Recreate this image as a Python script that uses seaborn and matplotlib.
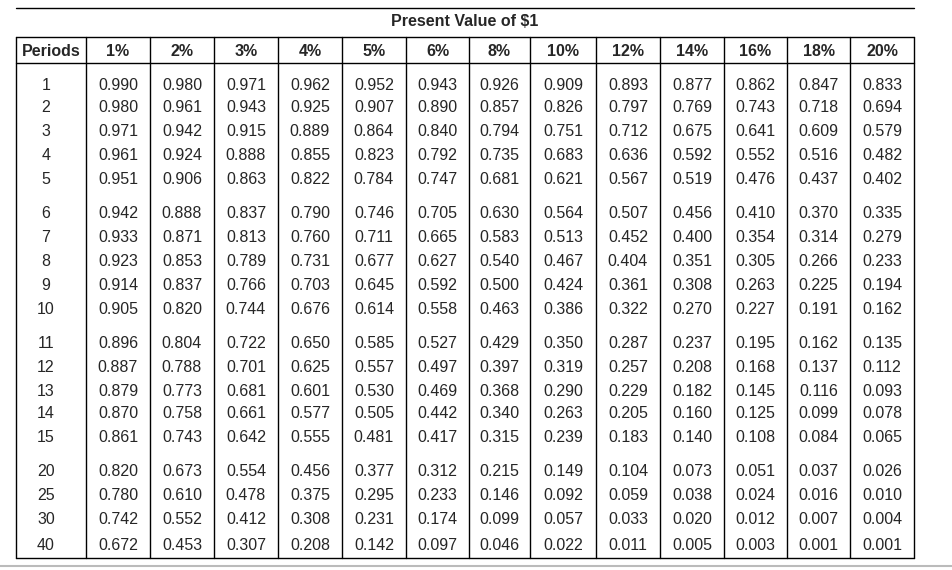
import matplotlib
matplotlib.use("Agg")
import matplotlib.pyplot as plt
import seaborn as sns
from matplotlib import font_manager

sns.set_theme(style="white")

title = "Present Value of $1"
periods = [1, 2, 3, 4, 5, 6, 7, 8, 9, 10, 11, 12, 13, 14, 15, 20, 25, 30, 40]
rates = ["1%", "2%", "3%", "4%", "5%", "6%", "8%", "10%", "12%", "14%", "16%", "18%", "20%"]
r1 = [0.990,0.980,0.971,0.961,0.951,0.942,0.933,0.923,0.914,0.905,0.896,0.887,0.879,0.870,0.861,0.820,0.780,0.742,0.672]
r2 = [0.980,0.961,0.942,0.924,0.906,0.888,0.871,0.853,0.837,0.820,0.804,0.788,0.773,0.758,0.743,0.673,0.610,0.552,0.453]
r3 = [0.971,0.943,0.915,0.888,0.863,0.837,0.813,0.789,0.766,0.744,0.722,0.701,0.681,0.661,0.642,0.554,0.478,0.412,0.307]
r4 = [0.962,0.925,0.889,0.855,0.822,0.790,0.760,0.731,0.703,0.676,0.650,0.625,0.601,0.577,0.555,0.456,0.375,0.308,0.208]
r5 = [0.952,0.907,0.864,0.823,0.784,0.746,0.711,0.677,0.645,0.614,0.585,0.557,0.530,0.505,0.481,0.377,0.295,0.231,0.142]
r6 = [0.943,0.890,0.840,0.792,0.747,0.705,0.665,0.627,0.592,0.558,0.527,0.497,0.469,0.442,0.417,0.312,0.233,0.174,0.097]
r8 = [0.926,0.857,0.794,0.735,0.681,0.630,0.583,0.540,0.500,0.463,0.429,0.397,0.368,0.340,0.315,0.215,0.146,0.099,0.046]
r10 = [0.909,0.826,0.751,0.683,0.621,0.564,0.513,0.467,0.424,0.386,0.350,0.319,0.290,0.263,0.239,0.149,0.092,0.057,0.022]
r12 = [0.893,0.797,0.712,0.636,0.567,0.507,0.452,0.404,0.361,0.322,0.287,0.257,0.229,0.205,0.183,0.104,0.059,0.033,0.011]
r14 = [0.877,0.769,0.675,0.592,0.519,0.456,0.400,0.351,0.308,0.270,0.237,0.208,0.182,0.160,0.140,0.073,0.038,0.020,0.005]
r16 = [0.862,0.743,0.641,0.552,0.476,0.410,0.354,0.305,0.263,0.227,0.195,0.168,0.145,0.125,0.108,0.051,0.024,0.012,0.003]
r18 = [0.847,0.718,0.609,0.516,0.437,0.370,0.314,0.266,0.225,0.191,0.162,0.137,0.116,0.099,0.084,0.037,0.016,0.007,0.001]
r20 = [0.833,0.694,0.579,0.482,0.402,0.335,0.279,0.233,0.194,0.162,0.135,0.112,0.093,0.078,0.065,0.026,0.010,0.004,0.001]
series = [r1, r2, r3, r4, r5, r6, r8, r10, r12, r14, r16, r18, r20]

names = {f.name for f in font_manager.fontManager.ttflist}
fam = "Liberation Sans Narrow" if "Liberation Sans Narrow" in names else "Liberation Sans"

fig = plt.figure(figsize=(9.52, 5.70), dpi=100)
ax = fig.add_axes([0, 0, 1, 1])
ax.set_xlim(0, 952); ax.set_ylim(570, 0); ax.axis("off")

edges = [16, 86, 150, 214, 278, 342, 406, 469, 530, 596, 660, 724, 787, 850, 914]
top, hbot, bot = 37, 63, 558
lw = 1.0
ax.plot([16, 914], [8, 8], color="black", lw=lw)
ax.plot([16, 914], [top, top], color="black", lw=lw)
ax.plot([16, 914], [hbot, hbot], color="black", lw=lw)
ax.plot([16, 914], [bot, bot], color="black", lw=lw)
ax.plot([0, 952], [566, 566], color="#bbbbbb", lw=1.5)
for x in edges:
    ax.plot([x, x], [top, bot], color="black", lw=lw)

ax.text(465, 21, title, ha="center", va="center", fontsize=11.5, fontweight="bold", family=fam)
hdr = ["Periods"] + rates
for i, h in enumerate(hdr):
    ax.text((edges[i] + edges[i + 1]) / 2, 51, h, ha="center", va="center",
            fontsize=11.5, fontweight="bold", family=fam)

ys = [85, 107, 131, 155, 180, 213, 237, 261, 286, 310, 343, 367, 391, 414, 438, 472, 496, 520, 545]
for j, p in enumerate(periods):
    ax.text(46, ys[j], str(p), ha="center", va="center", fontsize=11.5, family=fam)
    for i, s in enumerate(series):
        ax.text((edges[i + 1] + edges[i + 2]) / 2, ys[j], f"{s[j]:.3f}",
                ha="center", va="center", fontsize=11.5, family=fam)

fig.savefig("out.png", dpi=100)
